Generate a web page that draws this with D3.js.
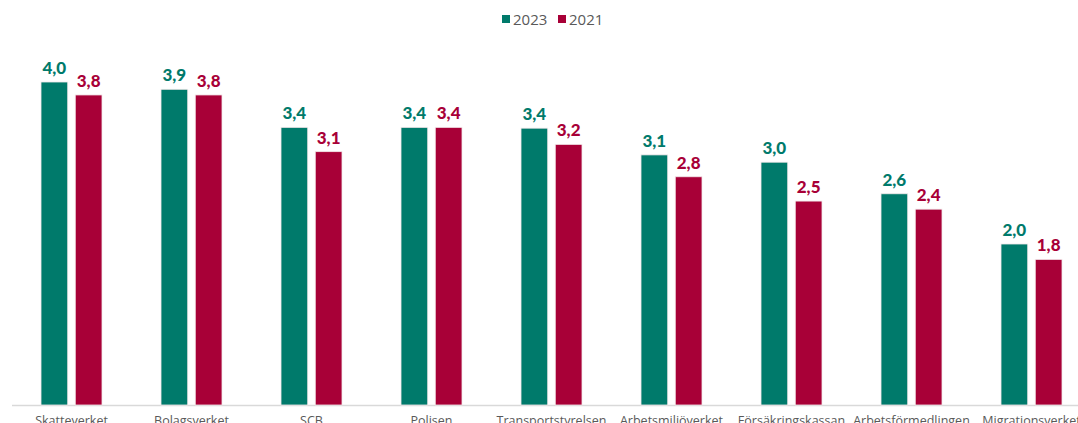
<!DOCTYPE html>
<html>
<head>
<meta charset="utf-8">
<script src="https://cdn.jsdelivr.net/npm/d3@7"></script>
<style>
  body { margin: 0; background: #fff; }
  svg { display: block; }
</style>
</head>
<body>
<div id="chart"></div>
<script>
var categories = ['Skatteverket', 'Bolagsverket', 'SCB', 'Polisen', 'Transportstyrelsen',
  'Arbetsmiljöverket', 'Försäkringskassan', 'Arbetsförmedlingen', 'Migrationsverket'];
var seriesNames = ['2023', '2021'];
var values2023 = [4.0, 3.91, 3.44, 3.44, 3.43, 3.10, 3.01, 2.62, 2.0];
var values2021 = [3.84, 3.84, 3.14, 3.44, 3.23, 2.83, 2.53, 2.43, 1.81];
var labels2023 = ['4,0', '3,9', '3,4', '3,4', '3,4', '3,1', '3,0', '2,6', '2,0'];
var labels2021 = ['3,8', '3,8', '3,1', '3,4', '3,2', '2,8', '2,5', '2,4', '1,8'];

var colors = { '2023': '#007a6b', '2021': '#a80037' };

var width = 1078, height = 423;
var svg = d3.select('#chart').append('svg')
  .attr('width', width)
  .attr('height', height);

var x0 = d3.scaleBand()
  .domain(categories)
  .range([11.5, 1091.5])
  .paddingInner(0)
  .paddingOuter(0);

var x1 = d3.scaleBand()
  .domain(seriesNames)
  .range([0, 61])
  .paddingInner(0.22);

var y = d3.scaleLinear()
  .domain([0, 4])
  .range([406, 82]);

// axis line
svg.append('line')
  .attr('x1', 12).attr('x2', width)
  .attr('y1', 405.5).attr('y2', 405.5)
  .attr('stroke', '#d9d9d9')
  .attr('stroke-width', 1.5);

var rows = categories.map(function (c, i) {
  return [
    { cat: c, s: '2023', v: values2023[i], label: labels2023[i] },
    { cat: c, s: '2021', v: values2021[i], label: labels2021[i] }
  ];
});

var groups = svg.selectAll('g.grp')
  .data(rows)
  .enter().append('g')
  .attr('class', 'grp')
  .attr('transform', function (d) {
    return 'translate(' + (x0(d[0].cat) + x0.bandwidth() / 2 - 30.5) + ',0)';
  });

groups.selectAll('rect')
  .data(function (d) { return d; })
  .enter().append('rect')
  .attr('x', function (d) { return x1(d.s); })
  .attr('y', function (d) { return y(d.v); })
  .attr('width', x1.bandwidth())
  .attr('height', function (d) { return y(0) - y(d.v) - 1; })
  .attr('fill', function (d) { return colors[d.s]; })
  .attr('stroke', '#f3e8ea')
  .attr('stroke-width', 0.8);

groups.selectAll('text.val')
  .data(function (d) { return d; })
  .enter().append('text')
  .attr('class', 'val')
  .attr('x', function (d) { return x1(d.s) + x1.bandwidth() / 2; })
  .attr('y', function (d) { return y(d.v) - 8; })
  .attr('text-anchor', 'middle')
  .attr('font-family', 'Lato, "Open Sans", sans-serif')
  .attr('font-weight', 900)
  .attr('font-size', '17px')
  .attr('fill', function (d) { return colors[d.s]; })
  .text(function (d) { return d.label; });

// category labels
svg.selectAll('text.cat')
  .data(categories)
  .enter().append('text')
  .attr('class', 'cat')
  .attr('x', function (d) { return x0(d) + x0.bandwidth() / 2; })
  .attr('y', 425)
  .attr('text-anchor', 'middle')
  .attr('font-family', '"Open Sans", sans-serif')
  .attr('font-size', '12.5px')
  .attr('fill', '#595959')
  .text(function (d) { return d; });

// legend
var legend = svg.append('g');
var legendX = [502, 558];
seriesNames.forEach(function (s, i) {
  legend.append('rect')
    .attr('x', legendX[i]).attr('y', 15)
    .attr('width', 8).attr('height', 8)
    .attr('fill', colors[s]);
  legend.append('text')
    .attr('x', legendX[i] + 11).attr('y', 25)
    .attr('font-family', '"Open Sans", sans-serif')
    .attr('font-size', '15px')
    .attr('fill', '#595959')
    .text(s);
});
</script>
</body>
</html>
